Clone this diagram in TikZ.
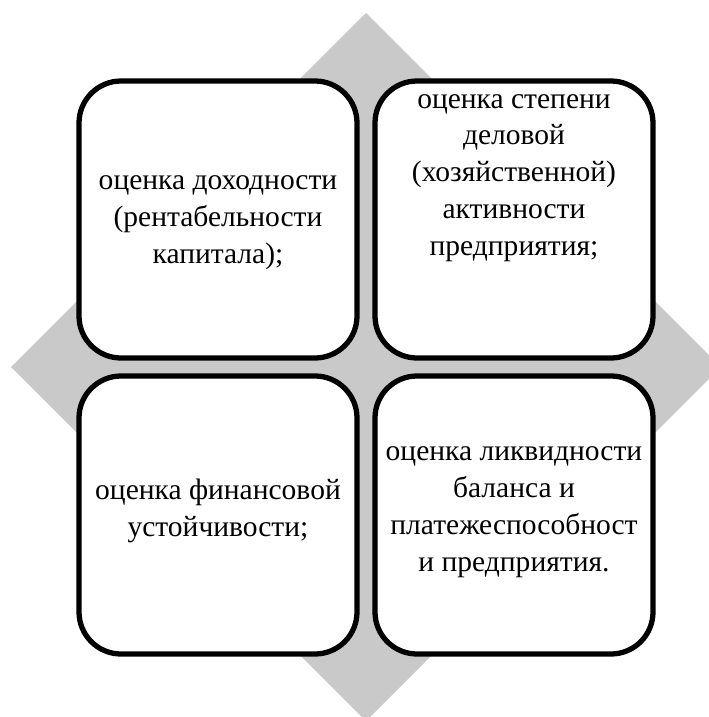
\documentclass[tikz,border=0pt]{standalone}
\usepackage{fontspec}
\setmainfont{Liberation Serif}
\definecolor{romb}{RGB}{201,201,201}
\tikzset{
  blok/.style={draw=black, line width=3pt, rounded corners=0.84cm, fill=white},
  txt/.style={align=center, inner sep=0pt}
}

\begin{document}
\begin{tikzpicture}[x=0.02cm, y=-0.02cm, font=\fontsize{16.8}{21}\selectfont]
    \coordinate (p01) at (   0,   0);
    \coordinate (p02) at ( 709, 717);

    \coordinate (r01) at ( 366,  13);
    \coordinate (r02) at ( 721, 367);
    \coordinate (r03) at ( 366, 721);
    \coordinate (r04) at (  11, 367);

    \coordinate (a01) at (  79,  81);
    \coordinate (a02) at ( 357, 358);
    \coordinate (a03) at ( 375,  81);
    \coordinate (a04) at ( 653, 358);
    \coordinate (a05) at (  79, 376);
    \coordinate (a06) at ( 357, 654);
    \coordinate (a07) at ( 375, 376);
    \coordinate (a08) at ( 653, 654);

    \coordinate (l01) at ( 218, 223);
    \coordinate (l02) at ( 514, 178);
    \coordinate (l03) at ( 218, 511);
    \coordinate (l04) at ( 514, 512);

    \useasboundingbox (p01) rectangle (p02);
    \clip (p01) rectangle (p02);

    \fill[romb] (r01) -- (r02) -- (r03) -- (r04) -- cycle;

    \draw[blok] (a01) rectangle (a02);
    \draw[blok] (a03) rectangle (a04);
    \draw[blok] (a05) rectangle (a06);
    \draw[blok] (a07) rectangle (a08);

    \node[txt] (t01) at (l01) {оценка доходности\\(рентабельности\\капитала);};
    \node[txt] (t02) at (l02) {оценка степени\\деловой\\(хозяйственной)\\активности\\предприятия;};
    \node[txt] (t03) at (l03) {оценка финансовой\\устойчивости;};
    \node[txt] (t04) at (l04) {оценка ликвидности\\баланса и\\платежеспособност\\и предприятия.};

\end{tikzpicture}
\end{document}
